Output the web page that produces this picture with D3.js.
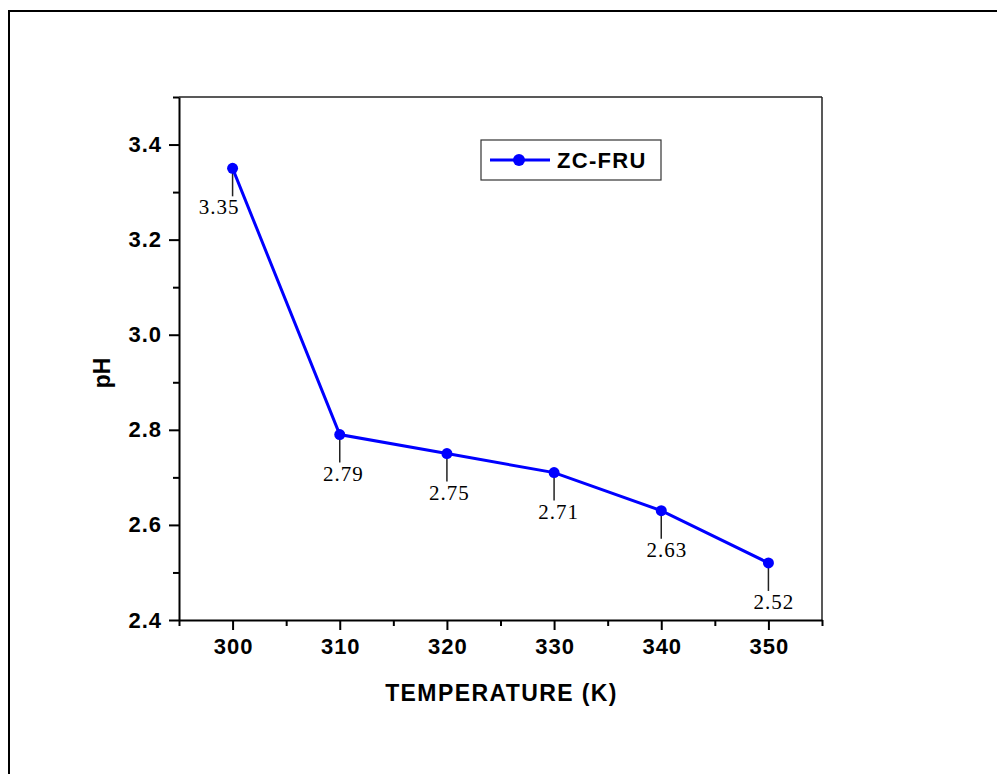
<!DOCTYPE html>
<html>
<head>
<meta charset="utf-8">
<script src="https://cdn.jsdelivr.net/npm/d3@7"></script>
<style>
  html, body { margin: 0; padding: 0; background: #fff; }
  svg { display: block; }
</style>
</head>
<body>
<script>
// ---- data ----
const temperatures = [300, 310, 320, 330, 340, 350];
const phValues = [3.35, 2.79, 2.75, 2.71, 2.63, 2.52];
const phLabels = ["3.35", "2.79", "2.75", "2.71", "2.63", "2.52"];
const xTicks = [300, 310, 320, 330, 340, 350];
const yTicks = [2.4, 2.6, 2.8, 3.0, 3.2, 3.4];
const seriesName = "ZC-FRU";
const xTitle = "TEMPERATURE (K)";
const yTitle = "pH";

// label horizontal nudges (layout only)
const labelDx = [-14, 3, 2, 4, 5, 5];

const W = 997, H = 774;
const svg = d3.select("body").append("svg").attr("width", W).attr("height", H);

// outer frame
svg.append("rect").attr("x", 9).attr("y", 11).attr("width", W + 20).attr("height", H + 20)
  .attr("fill", "none").attr("stroke", "#000").attr("stroke-width", 2);

const L = 179, R = 822, T = 97, B = 620;
const x = d3.scaleLinear().domain([295, 355]).range([L, R]);
const y = d3.scaleLinear().domain([2.4, 3.5]).range([B, T]);

const sans = "Arial, 'Liberation Sans', sans-serif";
const serif = "'Times New Roman', 'Liberation Serif', serif";

// top & right frame lines
svg.append("line").attr("x1", L).attr("x2", R).attr("y1", T).attr("y2", T)
  .attr("stroke", "#222").attr("stroke-width", 1.5);
svg.append("line").attr("x1", R).attr("x2", R).attr("y1", T).attr("y2", B)
  .attr("stroke", "#222").attr("stroke-width", 1.5);

// x axis major
svg.append("g").attr("class", "xmaj").attr("transform", `translate(0,${B})`)
  .call(d3.axisBottom(x).tickValues(xTicks).tickFormat(d3.format("d")).tickSize(10).tickPadding(8).tickSizeOuter(0));
// x axis minor
svg.append("g").attr("transform", `translate(0,${B})`)
  .call(d3.axisBottom(x).tickValues(d3.range(295, 356, 10)).tickFormat("").tickSize(6).tickSizeOuter(0))
  .select(".domain").remove();

// y axis major
svg.append("g").attr("class", "ymaj").attr("transform", `translate(${L},0)`)
  .call(d3.axisLeft(y).tickValues(yTicks).tickFormat(d3.format(".1f")).tickSize(10).tickPadding(7).tickSizeOuter(0));
// y axis minor
svg.append("g").attr("transform", `translate(${L},0)`)
  .call(d3.axisLeft(y).tickValues([2.5, 2.7, 2.9, 3.1, 3.3, 3.5]).tickFormat("").tickSize(6).tickSizeOuter(0))
  .select(".domain").remove();

svg.selectAll(".domain").attr("stroke", "#000").attr("stroke-width", 2);
svg.selectAll(".tick line").attr("stroke", "#000").attr("stroke-width", 2);
svg.selectAll(".tick text").attr("font-family", sans).attr("font-weight", "bold")
  .attr("font-size", 22).attr("fill", "#000").attr("letter-spacing", "1px");
svg.selectAll(".xmaj .tick text").attr("dx", "0.5px");

// axis titles
svg.append("text").attr("x", (L + R) / 2 + 1).attr("y", 701).attr("text-anchor", "middle")
  .attr("font-family", sans).attr("font-weight", "bold").attr("font-size", 23)
  .attr("letter-spacing", "1.4px").text(xTitle);
svg.append("text").attr("transform", `translate(110,373) rotate(-90)`).attr("text-anchor", "middle")
  .attr("font-family", sans).attr("font-weight", "bold").attr("font-size", 23).text(yTitle);

// data
const data = temperatures.map((t, i) => ({ t, v: phValues[i], label: phLabels[i], dx: labelDx[i] }));

// leader lines
svg.append("g").selectAll("line").data(data).join("line")
  .attr("x1", d => x(d.t)).attr("x2", d => x(d.t))
  .attr("y1", d => y(d.v)).attr("y2", d => y(d.v) + 28)
  .attr("stroke", "#222").attr("stroke-width", 1.5);

// series line
svg.append("path").datum(data)
  .attr("d", d3.line().x(d => x(d.t)).y(d => y(d.v)))
  .attr("fill", "none").attr("stroke", "#0000ff").attr("stroke-width", 3);

// markers
svg.append("g").selectAll("circle").data(data).join("circle")
  .attr("cx", d => x(d.t)).attr("cy", d => y(d.v)).attr("r", 5.5).attr("fill", "#0000ff");

// value labels
svg.append("g").selectAll("text").data(data).join("text")
  .attr("x", d => x(d.t) + d.dx + 0.5).attr("y", d => y(d.v) + 46)
  .attr("text-anchor", "middle").attr("font-family", serif).attr("font-size", 21)
  .attr("letter-spacing", "1px").attr("fill", "#000").text(d => d.label);

// legend
const lg = svg.append("g");
lg.append("rect").attr("x", 481).attr("y", 140).attr("width", 180).attr("height", 40)
  .attr("fill", "#fff").attr("stroke", "#333").attr("stroke-width", 1.2);
lg.append("line").attr("x1", 490).attr("x2", 550).attr("y1", 160).attr("y2", 160)
  .attr("stroke", "#0000ff").attr("stroke-width", 3);
lg.append("circle").attr("cx", 519).attr("cy", 160).attr("r", 6).attr("fill", "#0000ff");
lg.append("text").attr("x", 557).attr("y", 168).attr("font-family", sans).attr("font-weight", "bold")
  .attr("font-size", 22).attr("letter-spacing", "1.3px").text(seriesName);
</script>
</body>
</html>
